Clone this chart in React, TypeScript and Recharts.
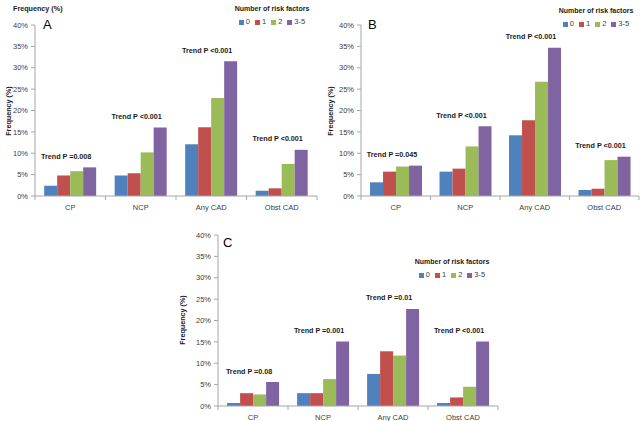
import React from 'react';
import { BarChart, Bar, XAxis, YAxis, LabelList } from 'recharts';

const categories = ['CP', 'NCP', 'Any CAD', 'Obst CAD'];
const seriesNames = ['0', '1', '2', '3-5'];
const seriesColors = ['#4F81BD', '#C0504D', '#9BBB59', '#8064A2'];
const yTicks = [0, 5, 10, 15, 20, 25, 30, 35, 40];

// Panel A
const aRisk0 = [2.4, 4.8, 12.1, 1.2];
const aRisk1 = [4.8, 5.3, 16.1, 1.8];
const aRisk2 = [5.8, 10.2, 22.9, 7.5];
const aRisk35 = [6.7, 16.0, 31.5, 10.8];
const aTrend = ['Trend P =0.008', 'Trend P <0.001', 'Trend P <0.001', 'Trend P <0.001'];

// Panel B
const bRisk0 = [3.2, 5.7, 14.2, 1.4];
const bRisk1 = [5.7, 6.4, 17.7, 1.7];
const bRisk2 = [6.9, 11.6, 26.7, 8.4];
const bRisk35 = [7.1, 16.3, 34.7, 9.2];
const bTrend = ['Trend P =0.045', 'Trend P <0.001', 'Trend P <0.001', 'Trend P <0.001'];

// Panel C
const cRisk0 = [0.7, 3.0, 7.5, 0.7];
const cRisk1 = [3.0, 3.0, 12.8, 2.0];
const cRisk2 = [2.7, 6.3, 11.8, 4.5];
const cRisk35 = [5.6, 15.1, 22.7, 15.1];
const cTrend = ['Trend P =0.08', 'Trend P =0.001', 'Trend P =0.01', 'Trend P <0.001'];

const FONT = "'Liberation Sans', Arial, sans-serif";
const AXIS = '#a6a6a6';
const TEXT = '#404040';
const DARK = '#1a1a1a';

const build = (s0: number[], s1: number[], s2: number[], s3: number[], tr: string[]) =>
  categories.map((c, i) => ({ cat: c, r0: s0[i], r1: s1[i], r2: s2[i], r3: s3[i], trend: tr[i] }));

const dataA = build(aRisk0, aRisk1, aRisk2, aRisk35, aTrend);
const dataB = build(bRisk0, bRisk1, bRisk2, bRisk35, bTrend);
const dataC = build(cRisk0, cRisk1, cRisk2, cRisk35, cTrend);

type PanelProps = {
  data: any[];
  left: number;
  top: number;
  width: number;
  height: number;
  margin: { top: number; right: number; bottom: number; left: number };
};

const Y_W = 30;
const X_H = 15;

function Panel({ data, left, top, width, height, margin }: PanelProps) {
  const plotW = width - margin.left - margin.right - Y_W;
  const band = plotW / categories.length;
  const XTick = (props: any) => {
    const { x, y, payload, index } = props;
    return (
      <g>
        <line x1={x - band / 2} x2={x - band / 2} y1={y} y2={y + 4} stroke={AXIS} />
        {index === categories.length - 1 && (
          <line x1={x + band / 2} x2={x + band / 2} y1={y} y2={y + 4} stroke={AXIS} />
        )}
        <text x={x} y={y + 14} textAnchor="middle" fontSize={7.5} fill={TEXT} fontFamily={FONT}>
          {payload.value}
        </text>
      </g>
    );
  };
  const TrendLabel = (p: any) => {
    const { x, y, width: w, value } = p;
    const cx = Number(x) - Number(w) - 4;
    return (
      <text x={cx} y={Number(y) - 8.5} textAnchor="middle" fontSize={7.2} fontWeight="bold" fill={DARK} fontFamily={FONT}>
        {value}
      </text>
    );
  };
  return (
    <div style={{ position: 'absolute', left, top, width, height }}>
      <BarChart width={width} height={height} data={data} margin={margin} barCategoryGap="13%" barGap={0}>
        <XAxis
          dataKey="cat"
          height={X_H}
          axisLine={{ stroke: AXIS }}
          tickLine={false}
          tickSize={0}
          tickMargin={0}
          tick={XTick}
          interval={0}
        />
        <YAxis
          type="number"
          domain={[0, 40]}
          ticks={yTicks}
          width={Y_W}
          axisLine={{ stroke: AXIS }}
          tickLine={{ stroke: AXIS }}
          tickSize={4}
          tickMargin={3}
          tickFormatter={(v: number) => `${v}%`}
          tick={{ fontSize: 7.5, fill: TEXT, fontFamily: FONT }}
          interval={0}
        />
        <Bar dataKey="r0" name={seriesNames[0]} fill={seriesColors[0]} isAnimationActive={false} />
        <Bar dataKey="r1" name={seriesNames[1]} fill={seriesColors[1]} isAnimationActive={false} />
        <Bar dataKey="r2" name={seriesNames[2]} fill={seriesColors[2]} isAnimationActive={false} />
        <Bar dataKey="r3" name={seriesNames[3]} fill={seriesColors[3]} isAnimationActive={false}>
          <LabelList dataKey="trend" content={TrendLabel} />
        </Bar>
      </BarChart>
    </div>
  );
}

function LegendBox({ cx, top }: { cx: number; top: number }) {
  return (
    <div style={{ position: 'absolute', left: cx - 45, top, width: 90, textAlign: 'center', fontFamily: FONT, color: DARK }}>
      <div style={{ fontSize: 7, fontWeight: 'bold', lineHeight: '10px', whiteSpace: 'nowrap' }}>Number of risk factors</div>
      <div style={{ display: 'flex', justifyContent: 'center', alignItems: 'center', marginTop: 3, fontSize: 7.5, lineHeight: '10px', color: TEXT }}>
        {seriesNames.map((n, i) => (
          <span key={n} style={{ display: 'inline-flex', alignItems: 'center', marginRight: i < 3 ? 5 : 0 }}>
            <span style={{ display: 'inline-block', width: 5, height: 5, background: seriesColors[i], marginRight: 2 }} />
            {n}
          </span>
        ))}
      </div>
    </div>
  );
}

function VLabel({ cx, cy }: { cx: number; cy: number }) {
  return (
    <div
      style={{
        position: 'absolute',
        left: cx - 40,
        top: cy - 5,
        width: 80,
        height: 10,
        lineHeight: '10px',
        textAlign: 'center',
        transform: 'rotate(-90deg)',
        fontFamily: FONT,
        fontSize: 7.2,
        fontWeight: 'bold',
        color: DARK,
      }}
    >
      Frequency (%)
    </div>
  );
}

function Letter({ x, y, t }: { x: number; y: number; t: string }) {
  return (
    <div style={{ position: 'absolute', left: x, top: y - 8, fontFamily: FONT, fontSize: 13, lineHeight: '16px', color: '#000' }}>
      {t}
    </div>
  );
}

export default function App() {
  return (
    <div style={{ position: 'absolute', left: 0, top: 0, width: 640, height: 421, background: '#fff', overflow: 'hidden' }}>
      <Panel data={dataA} left={0} top={0} width={330} height={215} margin={{ top: 25, right: 13, bottom: 4, left: 5 }} />
      <Panel data={dataB} left={320} top={0} width={320} height={215} margin={{ top: 25, right: 1, bottom: 4, left: 11 }} />
      <Panel data={dataC} left={150} top={210} width={360} height={215} margin={{ top: 25, right: 12, bottom: 4, left: 38 }} />

      <div style={{ position: 'absolute', left: 13, top: 4, fontFamily: FONT, fontSize: 7.2, fontWeight: 'bold', lineHeight: '10px', color: DARK }}>
        Frequency (%)
      </div>
      <VLabel cx={9} cy={111} />
      <VLabel cx={331} cy={111} />
      <VLabel cx={183} cy={320} />

      <LegendBox cx={272} top={4} />
      <LegendBox cx={596} top={6} />
      <LegendBox cx={452} top={257} />

      <Letter x={43} y={25} t="A" />
      <Letter x={368} y={25} t="B" />
      <Letter x={223} y={243} t="C" />
    </div>
  );
}
